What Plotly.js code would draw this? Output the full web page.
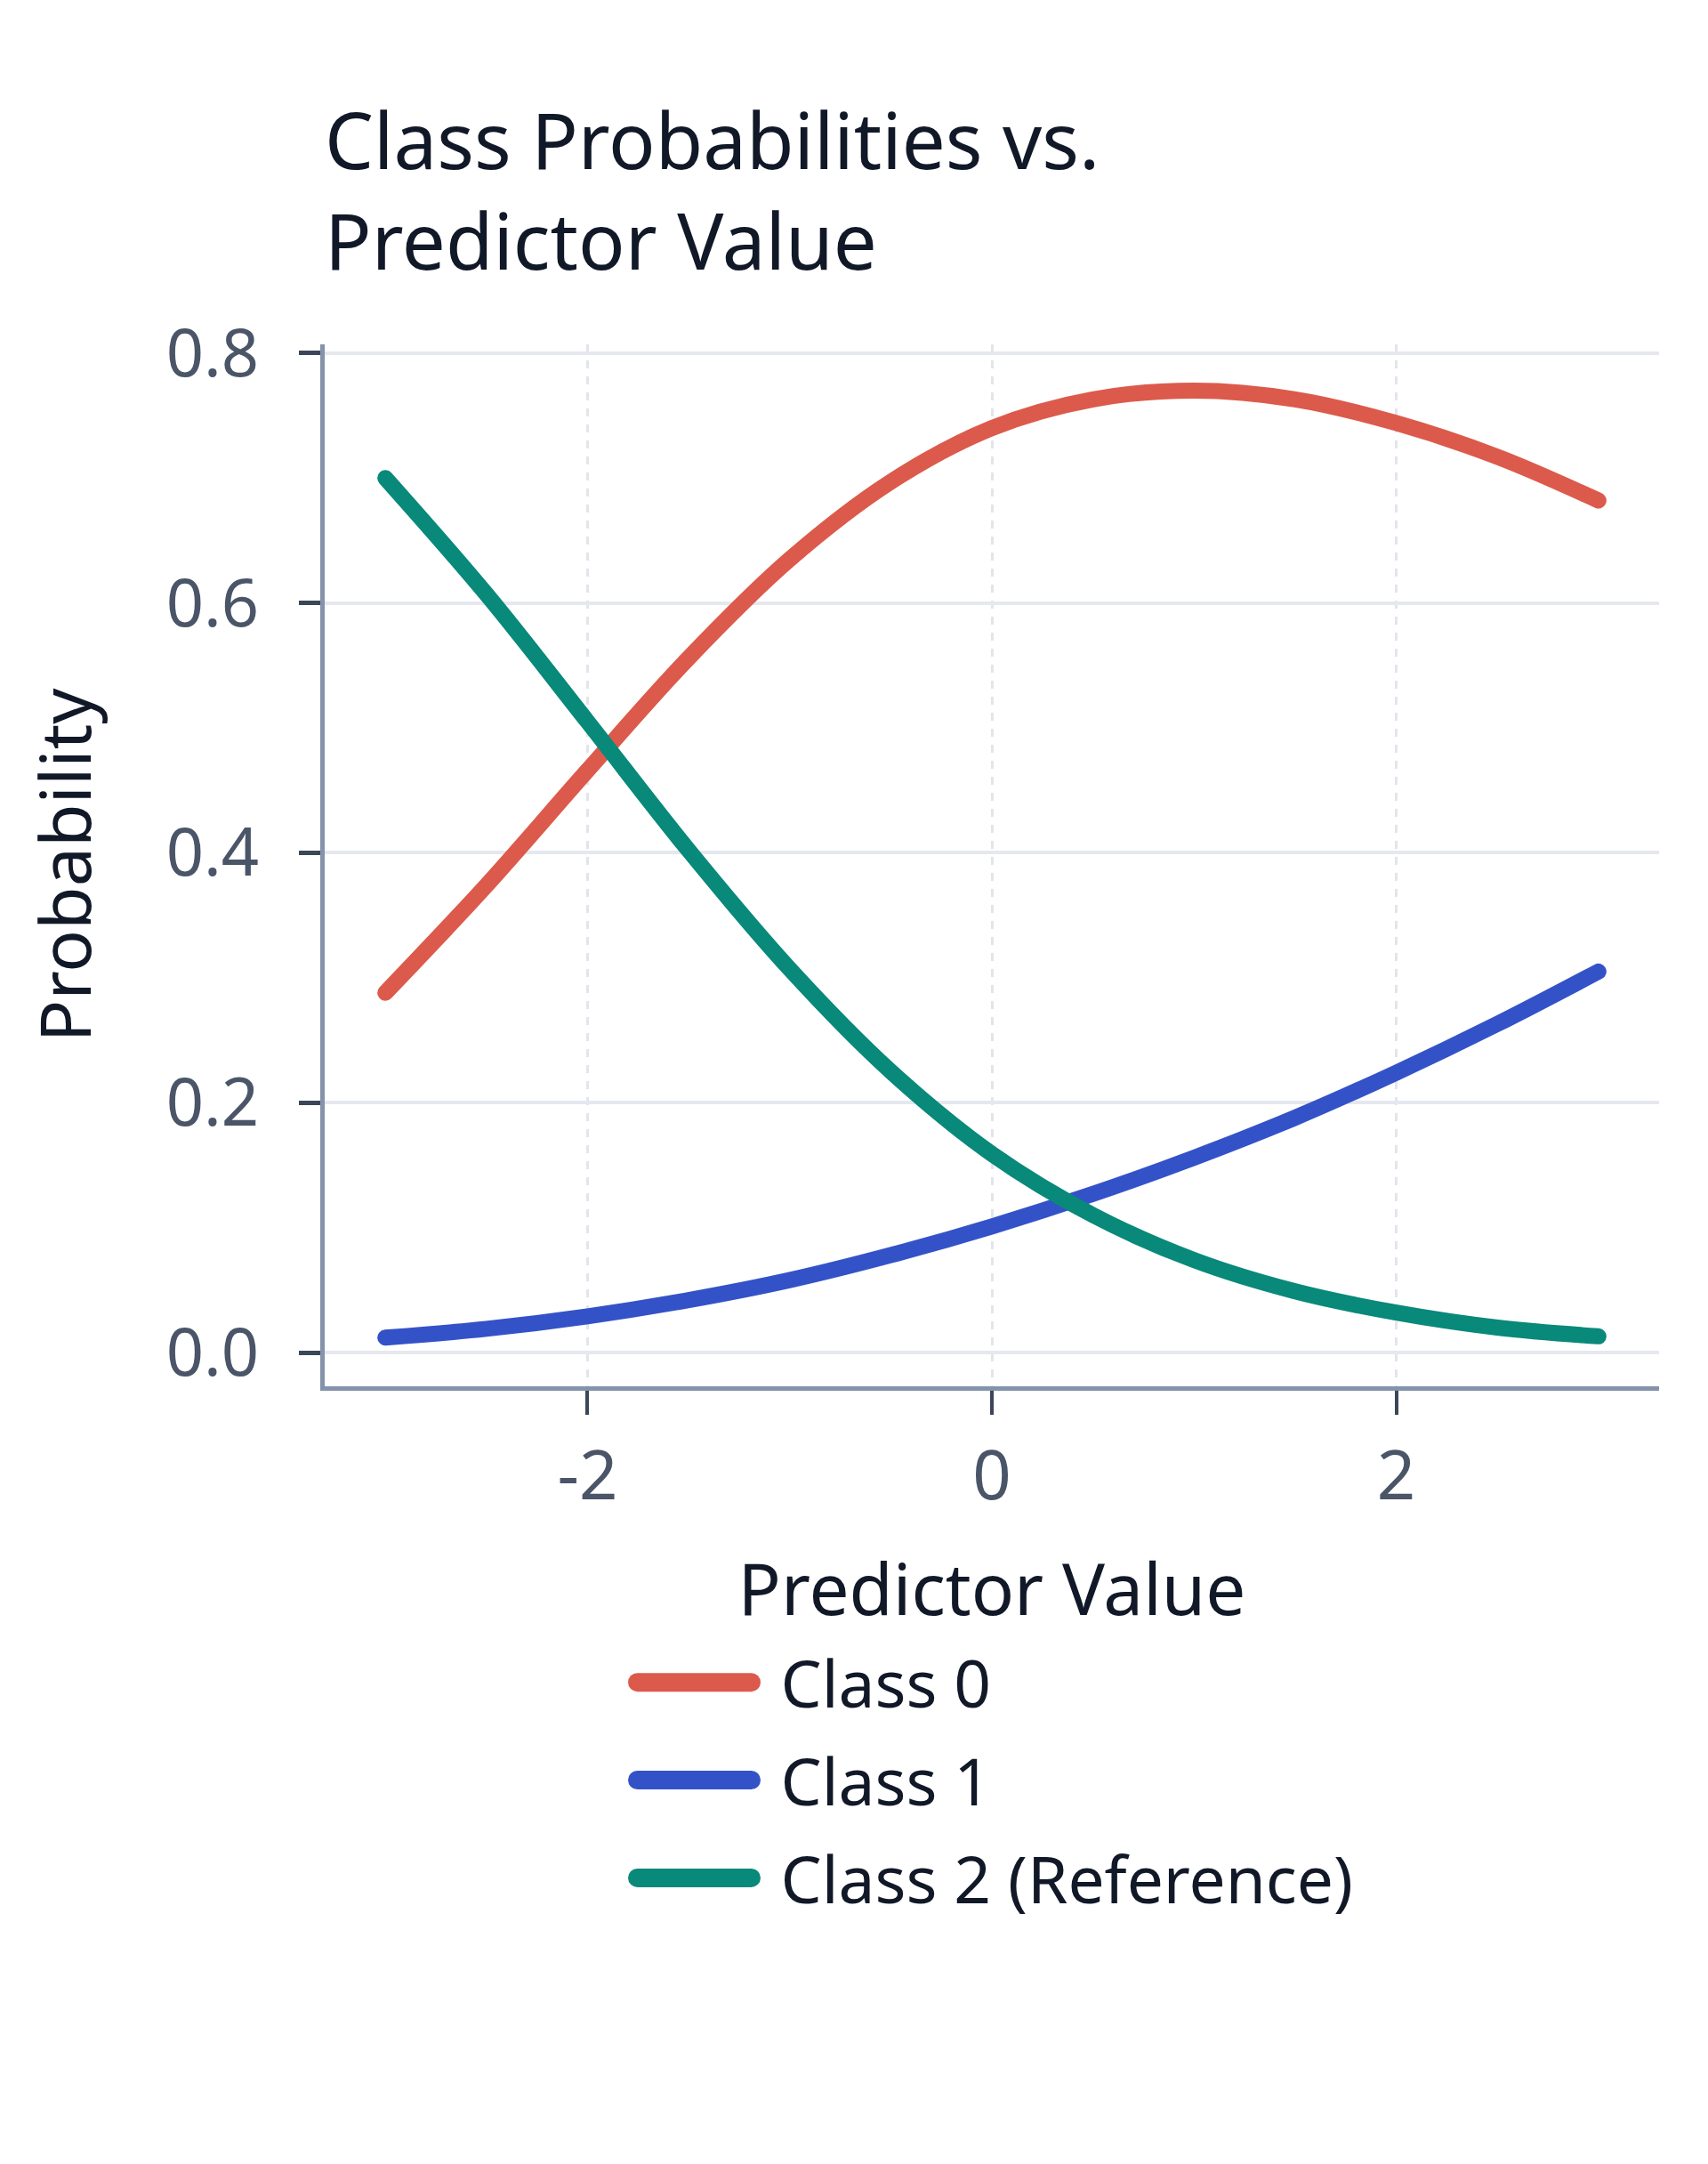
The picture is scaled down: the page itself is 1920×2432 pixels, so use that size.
<!DOCTYPE html>
<html>
<head>
<meta charset="utf-8">
<script src="https://cdn.plot.ly/plotly-3.0.1.min.js"></script>
<style>
	html, body { margin: 0; padding: 0; background: #fff; }
	#chart { width: 1920px; height: 2432px; }
</style>
</head>
<body>
<div id="chart"></div>
<script>
// predictor grid and class probabilities
const predictor = [-3, -2.5, -2, -1.5, -1, -0.5, 0, 0.5, 1, 1.5, 2, 2.5, 3];
const class0 = [0.288, 0.374, 0.466, 0.556, 0.635, 0.697, 0.740, 0.763, 0.770, 0.763, 0.744, 0.717, 0.682];
const class1 = [0.012, 0.019, 0.029, 0.042, 0.058, 0.078, 0.101, 0.127, 0.156, 0.188, 0.224, 0.263, 0.305];
const class2 = [0.700, 0.607, 0.505, 0.402, 0.307, 0.225, 0.159, 0.110, 0.074, 0.049, 0.032, 0.020, 0.013];

const seriesNames = ["Class 0", "Class 1", "Class 2 (Reference)"];
const seriesColors = ["#dc5a4b", "#3452c8", "#08897a"];
const xTicks = [-2, 0, 2];
const yTicks = [0, 0.2, 0.4, 0.6, 0.8];

const font_family = "'Noto Sans', 'Open Sans', sans-serif";

function makeLine(y, i) {
	return {
		x: predictor,
		y: y,
		type: "scatter",
		mode: "lines",
		name: seriesNames[i],
		legendgroup: "g" + i,
		line: { color: seriesColors[i], width: 18, shape: "spline" },
		hoverinfo: "x+y+name",
	};
}

let data = [makeLine(class0, 0), makeLine(class1, 1), makeLine(class2, 2)],
	layout = {
		width: 1920,
		height: 2432,
		paper_bgcolor: "#ffffff",
		plot_bgcolor: "#ffffff",
		font: { family: font_family, color: "#111827", size: 72 },
		title: {
			text: "Class Probabilities vs.<br>Predictor Value",
			x: 365 / 1920,
			xanchor: "left",
			xref: "container",
			y: 1 - 190 / 2432,
			yanchor: "top",
			yref: "container",
			font: { family: font_family, size: 87, color: "#111827" },
		},
		margin: { l: 365, r: 55, t: 387, b: 874, pad: 0 },
		showlegend: true,
		legend: {
			orientation: "v",
			x: 0.225,
			xanchor: "left",
			y: -0.238,
			yanchor: "top",
			font: { family: font_family, size: 73, color: "#111827" },
			itemwidth: 165,
			tracegroupgap: 12,
			bgcolor: "rgba(0,0,0,0)",
		},
		xaxis: {
			range: [-3.3, 3.3],
			tickvals: xTicks,
			ticktext: ["-2", "0", "2"],
			showgrid: true,
			gridcolor: "#e1e5ec",
			gridwidth: 3,
			griddash: "dash",
			zeroline: false,
			showline: true,
			linecolor: "#8592ab",
			linewidth: 5,
			ticks: "outside",
			ticklen: 27,
			tickwidth: 4,
			tickcolor: "#3b4658",
			ticklabelstandoff: 4,
			tickfont: { family: font_family, size: 76, color: "#4a5568" },
			title: {
				text: "Predictor Value",
				font: { family: font_family, size: 80, color: "#111827" },
				standoff: 54,
			},
		},
		yaxis: {
			range: [-0.027, 0.807],
			tickvals: yTicks,
			ticktext: ["0.0", "0.2", "0.4", "0.6", "0.8"],
			showgrid: true,
			gridcolor: "#e5e8ef",
			gridwidth: 4,
			zeroline: false,
			showline: true,
			linecolor: "#8592ab",
			linewidth: 5,
			ticks: "outside",
			ticklen: 24,
			tickwidth: 5,
			tickcolor: "#3b4658",
			ticklabelstandoff: 30,
			tickfont: { family: font_family, size: 74, color: "#4a5568" },
			title: {
				text: "Probability",
				font: { family: font_family, size: 79, color: "#111827" },
				standoff: 60,
			},
		},
	};

Plotly.newPlot("chart", data, layout, { staticPlot: true }).then(function (gd) {
	// round line ends, thicker and shorter legend swatches like the original
	gd.querySelectorAll(".scatterlayer path.js-line").forEach(function (p) {
		p.style.strokeLinecap = "round";
	});
	gd.querySelectorAll(".legend .legendlines path").forEach(function (p) {
		p.setAttribute("d", "M14,0h128");
		p.style.strokeWidth = "21px";
		p.style.strokeLinecap = "round";
	});
});
</script>
</body>
</html>
